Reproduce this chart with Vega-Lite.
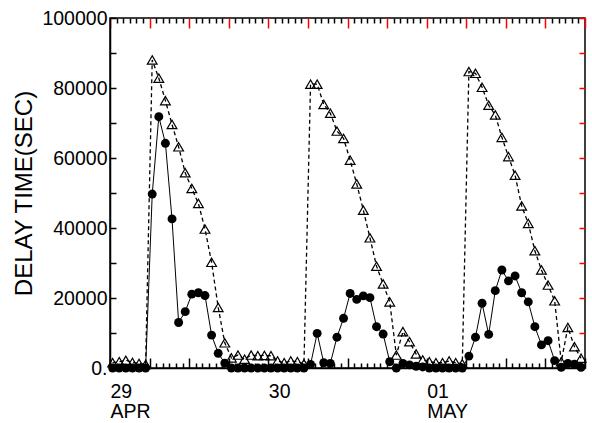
{
  "$schema": "https://vega.github.io/schema/vega-lite/v6.json",
  "width": 475,
  "height": 350,
  "autosize": {"type": "none"},
  "padding": {"left": 110, "top": 18, "right": 7, "bottom": 55},
  "config": {
    "view": {"stroke": "black", "strokeWidth": 1.5},
    "font": "Liberation Sans",
    "axis": {"labelFont": "Liberation Sans", "titleFont": "Liberation Sans", "labelColor": "black", "titleColor": "black", "domainColor": "black", "grid": false, "zindex": 1}
  },
  "data": {"values": [
    {"hour": 0.4, "circ": 0, "tri": 1500},
    {"hour": 1.4, "circ": 0, "tri": 1800},
    {"hour": 2.4, "circ": 0, "tri": 2200},
    {"hour": 3.4, "circ": 0, "tri": 1600},
    {"hour": 4.4, "circ": 0, "tri": 1300},
    {"hour": 5.4, "circ": 0, "tri": 1000},
    {"hour": 6.4, "circ": 49700, "tri": 88000},
    {"hour": 7.4, "circ": 71800, "tri": 82800},
    {"hour": 8.4, "circ": 64200, "tri": 76400},
    {"hour": 9.4, "circ": 42600, "tri": 69600},
    {"hour": 10.4, "circ": 13000, "tri": 63200},
    {"hour": 11.4, "circ": 16100, "tri": 55800},
    {"hour": 12.4, "circ": 21100, "tri": 51300},
    {"hour": 13.4, "circ": 21500, "tri": 47000},
    {"hour": 14.4, "circ": 20700, "tri": 39700},
    {"hour": 15.4, "circ": 9400, "tri": 30200},
    {"hour": 16.4, "circ": 4200, "tri": 17300},
    {"hour": 17.4, "circ": 1400, "tri": 7200},
    {"hour": 18.4, "circ": 0, "tri": 2900},
    {"hour": 19.4, "circ": 0, "tri": 3700},
    {"hour": 20.4, "circ": 0, "tri": 2500},
    {"hour": 21.4, "circ": 0, "tri": 3700},
    {"hour": 22.4, "circ": 0, "tri": 3500},
    {"hour": 23.4, "circ": 0, "tri": 3600},
    {"hour": 24.4, "circ": 0, "tri": 3500},
    {"hour": 25.4, "circ": 0, "tri": 2000},
    {"hour": 26.4, "circ": 0, "tri": 1500},
    {"hour": 27.4, "circ": 0, "tri": 2000},
    {"hour": 28.4, "circ": 0, "tri": 1800},
    {"hour": 29.4, "circ": 0, "tri": 1200},
    {"hour": 30.4, "circ": 1000, "tri": 81100},
    {"hour": 31.4, "circ": 9900, "tri": 81100},
    {"hour": 32.4, "circ": 1500, "tri": 75300},
    {"hour": 33.4, "circ": 1300, "tri": 72800},
    {"hour": 34.4, "circ": 8800, "tri": 67700},
    {"hour": 35.4, "circ": 14200, "tri": 65600},
    {"hour": 36.4, "circ": 21300, "tri": 59400},
    {"hour": 37.4, "circ": 19600, "tri": 52600},
    {"hour": 38.4, "circ": 20600, "tri": 45100},
    {"hour": 39.4, "circ": 20100, "tri": 37200},
    {"hour": 40.4, "circ": 11800, "tri": 29100},
    {"hour": 41.4, "circ": 9700, "tri": 24000},
    {"hour": 42.4, "circ": 1800, "tri": 18900},
    {"hour": 43.4, "circ": 0, "tri": 3700},
    {"hour": 44.4, "circ": 1300, "tri": 10400},
    {"hour": 45.4, "circ": 900, "tri": 7500},
    {"hour": 46.4, "circ": 500, "tri": 4000},
    {"hour": 47.4, "circ": 300, "tri": 2300},
    {"hour": 48.4, "circ": 0, "tri": 1800},
    {"hour": 49.4, "circ": 0, "tri": 1500},
    {"hour": 50.4, "circ": 0, "tri": 1500},
    {"hour": 51.4, "circ": 0, "tri": 2000},
    {"hour": 52.4, "circ": 0, "tri": 1500},
    {"hour": 53.4, "circ": 0, "tri": 1200},
    {"hour": 54.4, "circ": 3400, "tri": 84700},
    {"hour": 55.4, "circ": 8800, "tri": 84200},
    {"hour": 56.4, "circ": 18500, "tri": 80200},
    {"hour": 57.4, "circ": 9600, "tri": 75100},
    {"hour": 58.4, "circ": 22100, "tri": 72300},
    {"hour": 59.4, "circ": 28000, "tri": 65900},
    {"hour": 60.4, "circ": 24900, "tri": 60400},
    {"hour": 61.4, "circ": 26300, "tri": 55100},
    {"hour": 62.4, "circ": 21500, "tri": 46300},
    {"hour": 63.4, "circ": 18900, "tri": 41300},
    {"hour": 64.4, "circ": 11800, "tri": 33500},
    {"hour": 65.4, "circ": 6600, "tri": 28000},
    {"hour": 66.4, "circ": 7800, "tri": 23700},
    {"hour": 67.4, "circ": 2100, "tri": 19200},
    {"hour": 68.4, "circ": 200, "tri": 1800},
    {"hour": 69.4, "circ": 1300, "tri": 11600},
    {"hour": 70.4, "circ": 1100, "tri": 6100},
    {"hour": 71.4, "circ": 200, "tri": 2800}
  ]},
  "resolve": {"axis": {"x": "independent", "y": "independent"}},
  "layer": [
    {
      "mark": {"type": "line", "color": "black", "strokeWidth": 1.3, "strokeDash": [4, 3]},
      "encoding": {
        "x": {"field": "hour", "type": "quantitative",
          "scale": {"domain": [0, 72], "nice": false, "zero": false},
          "axis": {"orient": "bottom", "title": null, "domain": true, "domainWidth": 1.5,
            "values": [0, 6, 12, 18, 24, 30, 36, 42, 48, 54, 60, 66, 72],
            "ticks": true, "tickColor": "black", "tickWidth": 1.5, "tickSize": -10,
            "labelAlign": "left", "labelBaseline": "top", "labelPadding": 24, "labelFontSize": 19.5,
            "labelLineHeight": 20, "labelFlush": false, "labelOverlap": false,
            "labelExpr": "datum.value == 0 ? ['29', 'APR'] : datum.value == 24 ? '30' : datum.value == 48 ? ['01', 'MAY'] : ''"}},
        "y": {"field": "tri", "type": "quantitative",
          "scale": {"domain": [0, 100000], "nice": false},
          "axis": {"orient": "left", "title": "DELAY TIME(SEC)", "titleFontSize": 24, "titleFontWeight": "normal",
            "titlePadding": 5, "domain": true, "domainWidth": 1.5,
            "ticks": true, "tickColor": "black", "tickSize": -6, "tickWidth": 1.5,
            "values": [0, 10000, 20000, 30000, 40000, 50000, 60000, 70000, 80000, 90000, 100000],
            "labelPadding": 9, "labelFontSize": 19.5,
            "labelFlush": false, "labelOverlap": false,
            "labelExpr": "datum.value == 0 ? '0.' : datum.value % 20000 == 0 ? format(datum.value, 'd') : ''"}}
      }
    },
    {
      "mark": {"type": "point", "shape": "triangle-up", "filled": false, "color": "black", "strokeWidth": 1.2, "size": 95, "opacity": 1},
      "encoding": {
        "x": {"field": "hour", "type": "quantitative",
          "axis": {"orient": "top", "title": null, "domain": false, "labels": false,
            "values": [0, 6, 12, 18, 24, 30, 36, 42, 48, 54, 60, 66, 72],
            "ticks": true, "tickColor": "red", "tickWidth": 1.5, "tickSize": -10}},
        "y": {"field": "tri", "type": "quantitative",
          "axis": {"orient": "right", "title": null, "domain": false, "labels": false,
            "values": [0, 10000, 20000, 30000, 40000, 50000, 60000, 70000, 80000, 90000, 100000],
            "ticks": true, "tickColor": "red", "tickSize": -6, "tickWidth": 1.5}}
      }
    },
    {
      "mark": {"type": "line", "color": "black", "strokeWidth": 1},
      "encoding": {
        "x": {"field": "hour", "type": "quantitative",
          "axis": {"orient": "bottom", "title": null, "domain": false, "labels": false,
            "values": [1,2,3,4,5,7,8,9,10,11,13,14,15,16,17,19,20,21,22,23,25,26,27,28,29,31,32,33,34,35,37,38,39,40,41,43,44,45,46,47,49,50,51,52,53,55,56,57,58,59,61,62,63,64,65,67,68,69,70,71],
            "ticks": true, "tickColor": "black", "tickWidth": 1.5, "tickSize": -5}},
        "y": {"field": "circ", "type": "quantitative", "axis": null}
      }
    },
    {
      "mark": {"type": "circle", "color": "black", "size": 80, "opacity": 1},
      "encoding": {
        "x": {"field": "hour", "type": "quantitative",
          "axis": {"orient": "top", "title": null, "domain": false, "labels": false,
            "values": [1,2,3,4,5,7,8,9,10,11,13,14,15,16,17,19,20,21,22,23,25,26,27,28,29,31,32,33,34,35,37,38,39,40,41,43,44,45,46,47,49,50,51,52,53,55,56,57,58,59,61,62,63,64,65,67,68,69,70,71],
            "ticks": true, "tickColor": "black", "tickWidth": 1.5, "tickSize": -5}},
        "y": {"field": "circ", "type": "quantitative", "axis": null}
      }
    }
  ]
}
